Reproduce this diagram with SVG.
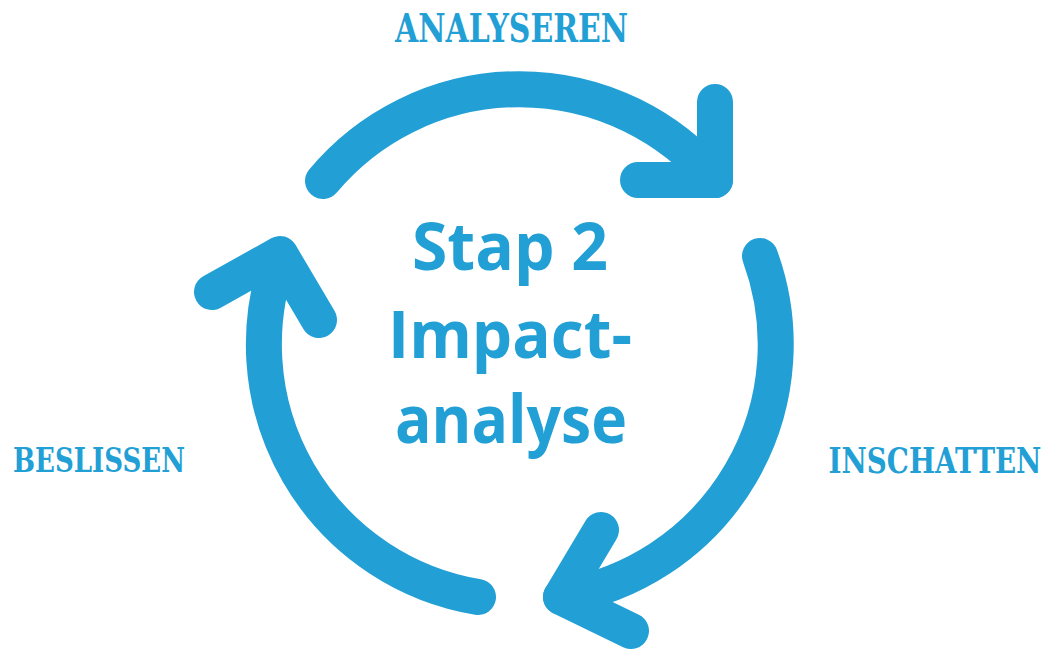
<svg xmlns="http://www.w3.org/2000/svg" width="1049" height="652" viewBox="0 0 1049 652">
  <style>
    .arrow { fill: none; stroke: #22a0d6; stroke-width: 36; stroke-linecap: round; stroke-linejoin: round; }
    .label { font-family: "DejaVu Serif Condensed", "DejaVu Serif", "Liberation Serif", serif; font-weight: bold; fill: #22a0d6; }
    .center { font-family: "Open Sans", "Liberation Sans", sans-serif; font-weight: bold; fill: #22a0d6; text-anchor: middle; }
  </style>
  <rect width="1049" height="652" fill="#ffffff"/>
  <g id="connectors">
    <g id="arrow-analyseren">
      <path class="arrow" d="M 323 181 A 256 256 0 0 1 715 180"/>
      <path class="arrow" d="M 715 102 L 715 180 L 638 180"/>
    </g>
    <g id="arrow-inschatten">
      <path class="arrow" d="M 760 256 A 256 256 0 0 1 561 597"/>
      <path class="arrow" d="M 601 530 L 561 597 L 631 631"/>
    </g>
    <g id="arrow-beslissen">
      <path class="arrow" d="M 478 597 A 256 256 0 0 1 280 255"/>
      <path class="arrow" d="M 212 292 L 280 254 L 319 320"/>
    </g>
  </g>
  <g id="node-center">
    <text class="center" x="510" y="270" font-size="67" textLength="196" lengthAdjust="spacingAndGlyphs">Stap 2</text>
    <text class="center" x="510" y="358" font-size="67" textLength="244" lengthAdjust="spacingAndGlyphs">Impact-</text>
    <text class="center" x="511" y="443" font-size="67" textLength="232" lengthAdjust="spacingAndGlyphs">analyse</text>
  </g>
  <g id="node-analyseren">
    <text class="label" x="511.5" y="42" font-size="40" text-anchor="middle" textLength="233" lengthAdjust="spacingAndGlyphs">ANALYSEREN</text>
  </g>
  <g id="node-inschatten">
    <text class="label" transform="translate(935,473) scale(0.88,1)" x="0" y="0" font-size="35" text-anchor="middle">INSCHATTEN</text>
  </g>
  <g id="node-beslissen">
    <text class="label" x="13" y="472" font-size="34" textLength="172" lengthAdjust="spacingAndGlyphs">BESLISSEN</text>
  </g>
</svg>
